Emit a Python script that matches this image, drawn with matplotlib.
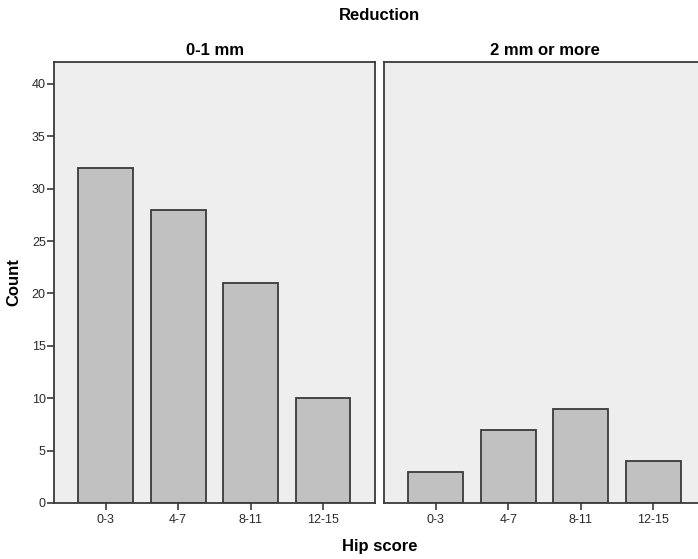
import numpy as np
import matplotlib
matplotlib.use("Agg")
from matplotlib import pyplot as plt

plt.rcParams['font.family'] = ['Liberation Sans', 'DejaVu Sans']

categories = ['0-3', '4-7', '8-11', '12-15']
counts_small = [32, 28, 21, 10]   # 0-1 mm
counts_large = [3, 7, 9, 4]       # 2 mm or more
panel_titles = ['0-1 mm', '2 mm or more']

bg = '#eeeeee'
bar_col = '#c1c1c1'
edge = '#3a3a3a'

fig = plt.figure(figsize=(6.98, 5.59), dpi=100)
ax1 = fig.add_axes([0.0774, 0.1002, 0.4599, 0.789])
ax2 = fig.add_axes([0.5501, 0.1002, 0.4607, 0.789])

x = np.arange(len(categories))
for ax, vals, title in zip([ax1, ax2], [counts_small, counts_large], panel_titles):
    ax.set_facecolor(bg)
    ax.bar(x, vals, width=0.756, color=bar_col, edgecolor=edge, linewidth=1.3, zorder=2)
    ax.set_xlim(-0.715, 3.72)
    ax.set_ylim(0, 42.1)
    ax.set_xticks(x)
    ax.set_xticklabels(categories, fontsize=9, color='#2a2a2a')
    ax.tick_params(axis='x', direction='out', length=5, width=1.2, color=edge, pad=3)
    for s in ax.spines.values():
        s.set_color(edge)
        s.set_linewidth(1.3)
    ax.set_title(title, fontsize=12, fontweight='bold', pad=5)

ax1.set_yticks(np.arange(0, 41, 5))
ax1.tick_params(axis='y', direction='out', length=5, width=1.2, color=edge, labelsize=9,
                labelcolor='#2a2a2a', pad=1)
ax2.set_yticks([])
ax2.spines['right'].set_visible(False)

fig.text(0.020, 0.4946, 'Count', ha='center', va='center', rotation=90,
         fontsize=12, fontweight='bold')
fig.text(0.544, 0.0215, 'Hip score', ha='center', va='center', fontsize=12, fontweight='bold')
fig.text(0.544, 0.973, 'Reduction', ha='center', va='center', fontsize=12, fontweight='bold')

fig.savefig('out.png', dpi=100)
